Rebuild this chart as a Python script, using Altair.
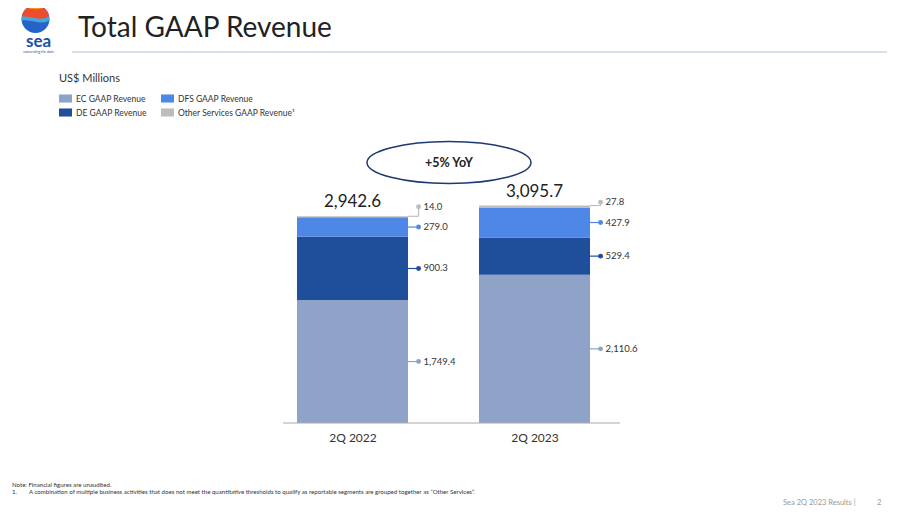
import json
import altair as alt
import pandas as pd

# ---------------- data ----------------
quarters = ["2Q 2022", "2Q 2023"]
segments = ["EC GAAP Revenue", "DE GAAP Revenue", "DFS GAAP Revenue", "Other Services GAAP Revenue\u00b9"]
ec_rev = [1749.4, 2110.6]
de_rev = [900.3, 529.4]
dfs_rev = [279.0, 427.9]
other_rev = [14.0, 27.8]
totals = [2942.6, 3095.7]
yoy_text = "+5% YoY"

seg_colors = ["#8fa3c8", "#1f4e9a", "#4f87e6", "#bdbdbd"]

FONT = "Lato"
MIN_GAP = 290  # minimum label spacing in value units (collision avoidance)

rows = []
series = [ec_rev, de_rev, dfs_rev, other_rev]
for qi, q in enumerate(quarters):
    base = 0.0
    prev_label = -1e9
    for si, seg in enumerate(segments):
        v = series[si][qi]
        y0, y1 = base, base + v
        mid = (y0 + y1) / 2
        label_y = max(mid, prev_label + MIN_GAP)
        prev_label = label_y
        conn_y = y1 if label_y > y1 else label_y
        rows.append(dict(qi=qi, segment=seg, value=v, y0=y0, y1=y1,
                         label_y=label_y, conn_y=conn_y, label=f"{v:,.1f}"))
        base = y1
df = pd.DataFrame(rows)
tot_df = pd.DataFrame({"qi": list(range(len(quarters))), "total": totals,
                       "label": [f"{t:,.1f}" for t in totals]})

HALF_BAR = 0.305
DOT = 0.363

yscale = alt.Scale(domain=[0, 4000])
xscale = alt.Scale(domain=[-0.5, len(quarters) - 0.5], nice=False, zero=False)
color_scale = alt.Scale(domain=segments, range=seg_colors)
label_expr = json.dumps(quarters) + "[datum.value]"
xaxis = alt.Axis(values=list(range(len(quarters))), labelExpr=label_expr, title=None,
                 domain=False, ticks=False, grid=False, labelAngle=0, labelFont=FONT,
                 labelFontSize=12, labelColor="#333", labelPadding=9)

base = alt.Chart(df).transform_calculate(
    xl="datum.qi - %f" % HALF_BAR,
    xr="datum.qi + %f" % HALF_BAR,
    xd="datum.qi + %f" % DOT,
)

bars = base.mark_bar().encode(
    x=alt.X("xl:Q", scale=xscale, axis=xaxis),
    x2="xr:Q",
    y=alt.Y("y0:Q", scale=yscale, axis=None),
    y2="y1:Q",
    color=alt.Color("segment:N", scale=color_scale, legend=alt.Legend(
        orient="none", legendX=-202.5, legendY=-69, title="US$ Millions",
        titleFont=FONT, titleFontSize=11, titleFontWeight="normal", titleColor="#333",
        titlePadding=8, columns=2, columnPadding=14, rowPadding=3,
        symbolType="M-1,-0.62H1V0.62H-1Z", symbolSize=169, symbolStrokeWidth=0,
        symbolOpacity=1, labelFont=FONT, labelFontSize=8.5, labelColor="#333",
        labelOffset=4, direction="vertical")),
)

hconn = base.mark_rule(strokeWidth=1.2).encode(
    x=alt.X("xr:Q", scale=xscale, axis=xaxis),
    x2="xd:Q",
    y=alt.Y("conn_y:Q", scale=yscale, axis=None),
    color=alt.Color("segment:N", scale=color_scale, legend=None),
)
vconn = base.mark_rule(strokeWidth=1.2).encode(
    x=alt.X("xd:Q", scale=xscale, axis=xaxis),
    y=alt.Y("conn_y:Q", scale=yscale, axis=None),
    y2="label_y:Q",
    color=alt.Color("segment:N", scale=color_scale, legend=None),
)
dots = base.mark_circle(size=24, opacity=1).encode(
    x=alt.X("xd:Q", scale=xscale, axis=xaxis),
    y=alt.Y("label_y:Q", scale=yscale, axis=None),
    color=alt.Color("segment:N", scale=color_scale, legend=None),
)
vlabels = base.mark_text(align="left", baseline="middle", dx=5,
                         font=FONT, fontSize=9.5, color="#333").encode(
    x=alt.X("xd:Q", scale=xscale, axis=xaxis),
    y=alt.Y("label_y:Q", scale=yscale, axis=None),
    text="label:N",
)
tlabels = alt.Chart(tot_df).mark_text(align="center", baseline="bottom", dy=-5,
                                      font=FONT, fontSize=17, color="#222").encode(
    x=alt.X("qi:Q", scale=xscale, axis=xaxis),
    y=alt.Y("total:Q", scale=yscale, axis=None),
    text="label:N",
)

# ---------------- annotations / slide decorations ----------------
ann = pd.DataFrame({"t": [yoy_text]})

base_rule = alt.Chart(ann).mark_rule(color="#aaaaaa", strokeWidth=1).encode(
    x=alt.value(21.5), x2=alt.value(358.5), y=alt.value(281))

ellipse = alt.Chart(ann).mark_point(
    shape="M-1,0A1,0.256 0 1,0 1,0A1,0.256 0 1,0 -1,0Z", size=26896,
    filled=False, stroke="#1f3a6e", strokeWidth=1.5, opacity=1).encode(
    x=alt.value(187.5), y=alt.value(20.5))
yoy = alt.Chart(ann).mark_text(font=FONT, fontSize=12.5, fontWeight="bold",
                               color="#222").encode(
    x=alt.value(187.5), y=alt.value(20.5), text="t:N")


def txt(s, x, y, size, color="#222", weight="normal", align="left", baseline="middle"):
    return alt.Chart(pd.DataFrame({"t": [s]})).mark_text(
        font=FONT, fontSize=size, fontWeight=weight, color=color,
        align=align, baseline=baseline).encode(
        x=alt.value(x), y=alt.value(y), text="t:N")


def logo_shape(path, color, size=784):
    return alt.Chart(ann).mark_point(shape=path, size=size, filled=True,
                                     color=color, opacity=1, strokeWidth=0).encode(
        x=alt.value(-226), y=alt.value(-123))


title = txt("Total GAAP Revenue", -183.5, -105, 28, "#222", baseline="alphabetic")
title_line = alt.Chart(ann).mark_rule(color="#c8d4e8", strokeWidth=1.5).encode(
    x=alt.value(-189.5), x2=alt.value(625.5), y=alt.value(-90))

logo_blue = logo_shape("M-1,0A1,1 0 1,0 1,0A1,1 0 1,0 -1,0Z", "#2563c9")
logo_cyan = logo_shape("M-1,0.1A1,1 0 0,1 1,0.1Q0.5,0.35 0,0.2Q-0.5,0.05 -1,0.1Z", "#3fa9e0")
logo_red = logo_shape("M-0.98,-0.2A1,1 0 0,1 0.98,-0.2Q0.5,0.05 0,-0.05Q-0.5,-0.15 -0.98,-0.2Z", "#ee4d2d")
logo_orange = logo_shape("M-0.6,-0.8A1,1 0 0,1 0.6,-0.8Q0,-0.6 -0.6,-0.8Z", "#f7931e")
sea_txt = txt("sea", -223, -95, 17, "#1d4fa3", weight="bold", align="center",
              baseline="alphabetic")
sea_sub = txt("connecting the dots", -223, -90, 3.5, "#1d4fa3", align="center")

note1 = txt("Note: Financial figures are unaudited.", -249.5, 343, 6.1, "#333")
note2 = txt("1.", -249.5, 350, 6.1, "#333")
note3 = txt("A combination of multiple business activities that does not meet the quantitative "
            "thresholds to qualify as reportable segments are grouped together as \u201cOther Services\u201d.",
            -232.5, 350, 6.1, "#333")
footer = txt("Sea 2Q 2023 Results |", 521.5, 361, 7.5, "#999")
page_no = txt("2", 615.5, 361, 7.5, "#999")

chart = alt.layer(
    bars, base_rule, hconn, vconn, dots, vlabels, tlabels,
    ellipse, yoy, title, title_line,
    logo_blue, logo_cyan, logo_red, logo_orange, sea_txt, sea_sub,
    note1, note2, note3, footer, page_no,
).properties(
    width=364, height=281, autosize="none",
    padding={"left": 253.5, "top": 134, "right": 269, "bottom": 86},
).configure_view(stroke=None)

chart.save("out.html", embed_options={"renderer": "svg", "actions": False})
